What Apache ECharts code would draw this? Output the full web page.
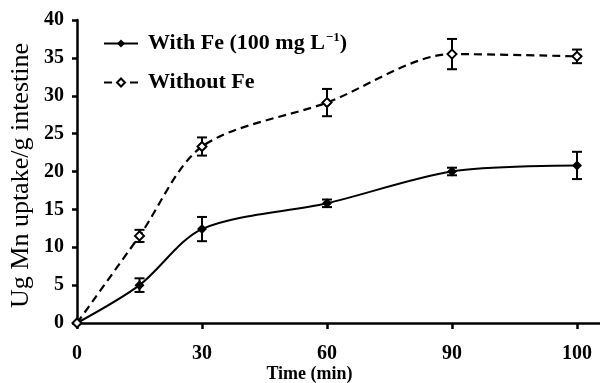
<!DOCTYPE html>
<html>
<head>
<meta charset="utf-8">
<script src="https://cdn.jsdelivr.net/npm/echarts@6/dist/echarts.min.js"></script>
<style>
  html, body { margin: 0; padding: 0; background: #fff; }
  #chart { width: 600px; height: 383px; }
</style>
</head>
<body>
<div id="chart"></div>
<script>
// sample times (min) and the tick labels of the (uneven) time axis
const timeMin = [0, 15, 30, 60, 90, 100];
const xTickValues = [0, 30, 60, 90, 100];
const yTicks = [0, 5, 10, 15, 20, 25, 30, 35, 40];

const withFe = [0, 5.0, 12.4, 15.8, 20.0, 20.8];
const withFeErr = [0, 0.9, 1.6, 0.5, 0.5, 1.8];
const withoutFe = [0, 11.5, 23.3, 29.1, 35.5, 35.2];
const withoutFeErr = [0, 0.8, 1.2, 1.8, 2.0, 0.9];

const FONT = 'Liberation Serif';

// the figure spaces its ticks evenly, so time is mapped onto tick index
function axisPos(t) {
    for (let i = 0; i < xTickValues.length - 1; i++) {
        const a = xTickValues[i], b = xTickValues[i + 1];
        if (t <= b) return i + (t - a) / (b - a);
    }
    return xTickValues.length - 1;
}

const lineData = vals => timeMin.map((t, i) => [axisPos(t), vals[i]]);
const errData = (vals, errs) => timeMin.map((t, i) => [axisPos(t), vals[i] - errs[i], vals[i] + errs[i]]);

function renderErr(params, api) {
    const x = api.value(0);
    const lo = api.coord([x, api.value(1)]);
    const hi = api.coord([x, api.value(2)]);
    if (hi[1] === lo[1]) return;
    const w = 5;
    const style = { stroke: '#000', lineWidth: 2 };
    return {
        type: 'group',
        children: [
            { type: 'line', shape: { x1: hi[0], y1: hi[1], x2: lo[0], y2: lo[1] }, style },
            { type: 'line', shape: { x1: hi[0] - w, y1: hi[1], x2: hi[0] + w, y2: hi[1] }, style },
            { type: 'line', shape: { x1: lo[0] - w, y1: lo[1], x2: lo[0] + w, y2: lo[1] }, style },
        ],
    };
}

const tickIdx = xTickValues.map((v, i) => i);

const option = {
    animation: false,
    backgroundColor: '#fff',
    grid: { left: 77, right: 0, top: 20, bottom: 60, outerBoundsMode: 'none', containLabel: false },
    legend: {
        data: ['With Fe', 'Without Fe'],
        orient: 'vertical',
        left: 98,
        top: 26,
        itemWidth: 34,
        itemHeight: 10,
        itemGap: 17,
        textStyle: {
            fontFamily: FONT,
            fontWeight: 'bold',
            fontSize: 22,
            color: '#000',
            padding: [0, 0, 0, 5],
            rich: {
                a: { fontFamily: FONT, fontWeight: 'bold', fontSize: 22, color: '#000' },
                sup: { fontFamily: FONT, fontWeight: 'bold', fontSize: 13, color: '#000', verticalAlign: 'top', padding: [0, 0, 12, 1] },
            },
        },
        formatter: name => name === 'With Fe'
            ? '{a|With Fe (100 mg L}{sup|\u22121}{a|)}'
            : '{a|Without Fe}',
    },
    xAxis: {
        type: 'value',
        min: 0,
        max: 4.184,
        name: 'Time (min)',
        nameLocation: 'middle',
        nameGap: 42,
        nameMoveOverlap: false,
        nameTextStyle: { fontFamily: FONT, fontWeight: 'bold', fontSize: 18, color: '#000', padding: [0, 58, 0, 0] },
        splitLine: { show: false },
        axisLine: { lineStyle: { color: '#000', width: 2.5 } },
        axisTick: { customValues: tickIdx, length: 6, lineStyle: { color: '#000', width: 2.5 } },
        axisLabel: {
            customValues: tickIdx,
            formatter: v => String(xTickValues[Math.round(v)]),
            margin: 21,
            fontFamily: FONT, fontWeight: 'bold', fontSize: 20, color: '#000',
        },
    },
    yAxis: {
        type: 'value',
        min: 0,
        max: 40,
        interval: 5,
        name: 'Ug Mn uptake/g intestine',
        nameLocation: 'middle',
        nameGap: 43,
        nameMoveOverlap: false,
        nameTextStyle: { fontFamily: FONT, fontSize: 26, color: '#000', padding: [0, 8, 0, 0] },
        splitLine: { show: false },
        axisLine: { show: true, lineStyle: { color: '#000', width: 2.5 } },
        axisTick: { show: true, length: 5, lineStyle: { color: '#000', width: 2.5 } },
        axisLabel: {
            customValues: yTicks,
            margin: 13,
            fontFamily: FONT, fontWeight: 'bold', fontSize: 20, color: '#000',
        },
    },
    series: [
        {
            name: 'With Fe',
            type: 'line',
            data: lineData(withFe),
            smooth: 0.3,
            symbol: 'diamond',
            symbolSize: 10,
            itemStyle: { color: '#000' },
            lineStyle: { color: '#000', width: 2 },
            z: 3,
        },
        {
            name: 'Without Fe',
            type: 'line',
            data: lineData(withoutFe),
            smooth: 0.3,
            symbol: 'diamond',
            symbolSize: 9,
            itemStyle: { color: '#fff', borderColor: '#000', borderWidth: 2 },
            lineStyle: { color: '#000', width: 2.2, type: [8, 5] },
            z: 3,
        },
        {
            type: 'custom',
            renderItem: renderErr,
            data: errData(withFe, withFeErr),
            encode: { x: 0, y: [1, 2] },
            z: 2,
        },
        {
            type: 'custom',
            renderItem: renderErr,
            data: errData(withoutFe, withoutFeErr),
            encode: { x: 0, y: [1, 2] },
            z: 2,
        },
    ],
};

const chart = echarts.init(document.getElementById('chart'), null, { renderer: 'canvas' });
chart.setOption(option);
</script>
</body>
</html>
